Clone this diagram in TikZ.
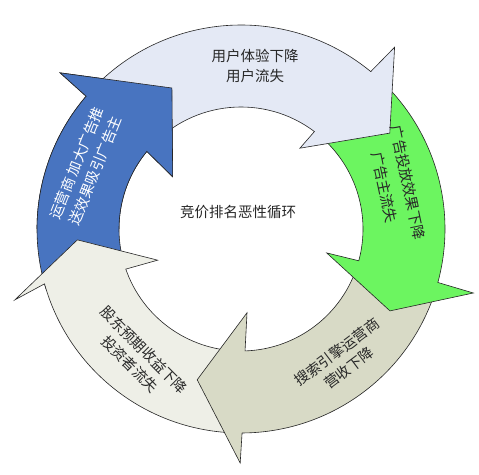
\documentclass[tikz,border=0pt]{standalone}
\usepackage{fontspec}
\setmainfont{Noto Sans CJK SC}
\definecolor{lbfill}{RGB}{228,233,245}
\definecolor{grfill}{RGB}{108,245,96}
\definecolor{gyfill}{RGB}{216,218,198}
\definecolor{crfill}{RGB}{238,239,231}
\definecolor{blfill}{RGB}{72,116,192}
\definecolor{txt}{RGB}{40,40,40}
\newcommand\Ro{204}
\newcommand\Ri{122}
\newcommand\acol{white}
% #1 tail, #2 outer notch, #3/#4 outer barb, #5/#6 tip, #7/#8 inner barb, #9 inner notch
\newcommand\cyclearrow[9]{%
  \path[ringarrow, fill=\acol] (#1:\Ro pt) arc[start angle=#1, end angle=#2, radius=\Ro pt]
    -- (#3:#4pt) -- (#5:#6pt) -- (#7:#8pt) -- (#9:\Ri pt)
    arc[start angle=#9, end angle=#1, radius=\Ri pt] -- cycle;}
\newcommand\bluearrow{\renewcommand\acol{blfill}%
  \cyclearrow{197}{139.4}{139.2}{239}{116.1}{157}{142.6}{86}{140.5}}
\begin{document}
\begin{tikzpicture}[x=1pt,y=1pt,
  ringarrow/.style={draw=black!85, line width=0.6pt, line join=miter},
  lbl/.style={font=\fontsize{14.5}{20}\selectfont, text=txt, align=center, inner sep=0pt}]
\useasboundingbox[fill=white] (0,0) rectangle (479,474);
\begin{scope}[shift={(241,245)}]
  \bluearrow
  \renewcommand\acol{crfill}
  \cyclearrow{268.8}{195.6}{197.4}{237}{183.8}{164}{200.5}{89}{199.2}
  \renewcommand\acol{gyfill}
  \cyclearrow{-16.7}{-89.7}{-90.2}{234}{-106.2}{157}{-85.9}{84}{-88.1}
  \renewcommand\acol{grfill}
  \cyclearrow{49}{-15.2}{-15.4}{241}{-28.8}{170}{-15.6}{89}{-15.1}
  \renewcommand\acol{lbfill}
  \cyclearrow{138}{50.5}{49.8}{238}{32.8}{177}{53.9}{100}{53}
  \begin{scope}
    \clip (-300,0) rectangle (0,300);
    \bluearrow
  \end{scope}
\end{scope}
\node[lbl] (center) at (238,262) {竞价排名恶性循环};
\node[lbl] (ux) at (255,408.5) {用户体验下降\\用户流失};
\node[lbl, font=\fontsize{14.5}{24}\selectfont, rotate=-78] (ad) at (396,289) {广告投放效果下降\\广告主流失};
\node[lbl, rotate=37] (se) at (343,114) {搜索引擎运营商\\营收下降};
\node[lbl, rotate=-45] (sh) at (137,117) {股东预期收益下降\\投资者流失};
\node[lbl, text=white, rotate=68] (op) at (86,307) {运营商 加大广告推\\送效果吸引广告主};
\end{tikzpicture}
\end{document}
